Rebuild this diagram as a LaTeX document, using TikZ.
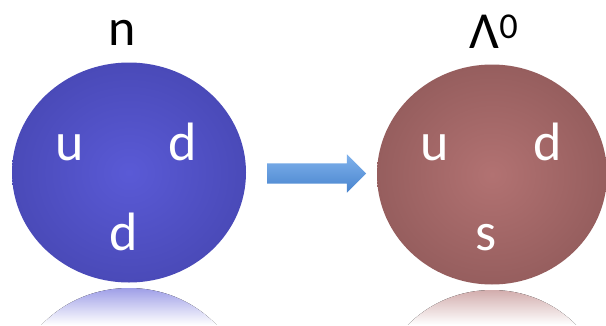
\documentclass[tikz,border=0pt]{standalone}
\usepackage{fontspec}
\setmainfont{Carlito}
\usetikzlibrary{shapes.geometric,shapes.arrows,calc}
\definecolor{nblue}{RGB}{90,90,214}
\definecolor{nblueout}{RGB}{74,74,184}
\definecolor{lbrown}{RGB}{178,114,114}
\definecolor{lbrownout}{RGB}{150,94,94}
\definecolor{arrowtop}{RGB}{128,178,236}
\definecolor{arrowbot}{RGB}{72,132,206}

\begin{document}
\begin{tikzpicture}[x=1pt,y=-1pt,
  hadron/.style={ellipse,minimum width=234pt,minimum height=220pt,inner sep=0pt},
  quark/.style={anchor=base,text=white,font=\fontsize{54}{64}\selectfont},
  title/.style={anchor=base,font=\fontsize{52}{62}\selectfont}]
\useasboundingbox (0,0) rectangle (606,325);
\fill[white] (0,0) rectangle (606,325);
% reflections under the two balls
\begin{scope}
\clip (129,398) ellipse (117 and 110);
\fill[top color=nblue!60!white,bottom color=white] (0,287) rectangle (260,325);
\end{scope}
\begin{scope}
\clip (492,400) ellipse (115 and 110);
\fill[top color=lbrown!60!white,bottom color=white] (360,289) rectangle (606,325);
\end{scope}
\node[hadron,inner color=nblue,outer color=nblueout] (neutron) at (129,172.5) {};
\node[hadron,minimum width=230pt,inner color=lbrown,outer color=lbrownout] (lambda) at (492,174.5) {};
\node[title] (nlabel) at (122,45) {n};
\node[title] (llabel) at (494,48) {Λ\textsuperscript{0}};
\node[quark] (nu) at (70,160) {u};
\node[quark] (nd1) at (183,160) {d};
\node[quark] (nd2) at (124,250) {d};
\node[quark] (lu) at (435,160) {u};
\node[quark] (ld) at (548,160) {d};
\node[quark] (ls) at (486,250) {s};
\node[single arrow,minimum height=99pt,minimum width=38pt,inner sep=10pt,
  single arrow head extend=9pt,top color=arrowtop,bottom color=arrowbot]
  (decay) at ($(neutron.east)!0.5!(lambda.west)$) {};
\end{tikzpicture}
\end{document}
